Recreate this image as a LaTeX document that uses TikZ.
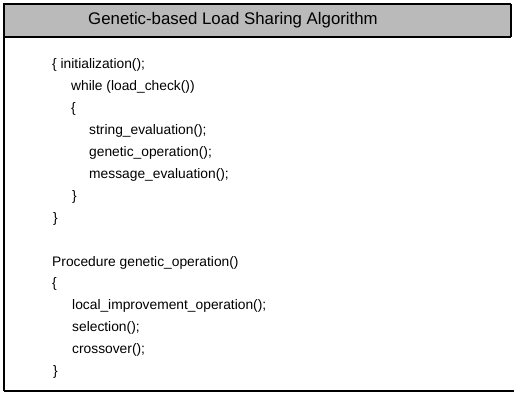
\documentclass[tikz,border=0pt]{standalone}
\usepackage{fontspec}
\setmainfont{Liberation Sans}
\begin{document}
\begin{tikzpicture}[x=1pt,y=-1pt,
  codeline/.style={anchor=base west, inner sep=0pt, font=\fontsize{13.8}{16}\selectfont},
  titletext/.style={anchor=center, inner sep=0pt, font=\fontsize{16.8}{19}\selectfont},
  frame/.style={line width=2.2pt, black}]
\useasboundingbox (0,0) rectangle (514,395);
% header
\fill[black!27] (4,4) rectangle (511,37);
\draw[frame] (4,4) -- (511,4);
\draw[line width=1.4pt] (4,37) -- (511,37);
\draw[line width=1.4pt] (511,4) -- (511,37);
\draw[frame] (4,3) -- (4,391);
\draw[line width=1.6pt] (4,391) -- (514,391);
\node[titletext] (title) at (233,20) {Genetic-based Load Sharing Algorithm};
% code
\def\pitch{21.9}
\node[codeline] (l0) at (52,69) {\{ initialization();};
\node[codeline] (l1) at (71,69+1*\pitch) {while (load\_check())};
\node[codeline] (l2) at (71,69+2*\pitch) {\{};
\node[codeline] (l3) at (89,69+3*\pitch) {string\_evaluation();};
\node[codeline] (l4) at (89,69+4*\pitch) {genetic\_operation();};
\node[codeline] (l5) at (89,69+5*\pitch) {message\_evaluation();};
\node[codeline] (l6) at (72,69+6*\pitch) {\}};
\node[codeline] (l7) at (53,69+7*\pitch) {\}};
\node[codeline] (l9) at (52,69+9*\pitch) {Procedure genetic\_operation()};
\node[codeline] (l10) at (52,69+10*\pitch) {\{};
\node[codeline] (l11) at (72,69+11*\pitch) {local\_improvement\_operation();};
\node[codeline] (l12) at (72,69+12*\pitch) {selection();};
\node[codeline] (l13) at (72,69+13*\pitch) {crossover();};
\node[codeline] (l14) at (53,69+14*\pitch) {\}};
\end{tikzpicture}
\end{document}
